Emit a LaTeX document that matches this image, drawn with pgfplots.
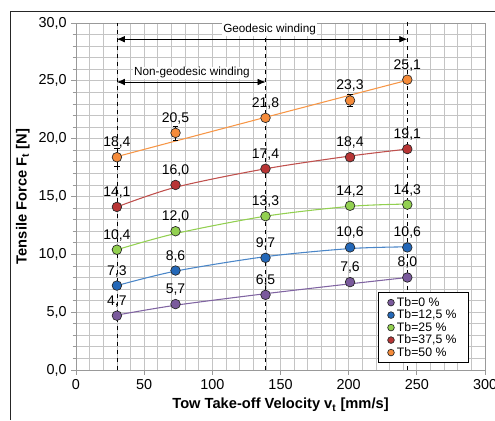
\documentclass[border=0pt]{standalone}
\usepackage{pgfplots}
\pgfplotsset{compat=1.18}
\usepackage{fontspec}
\setmainfont{Liberation Sans}
\usetikzlibrary{arrows.meta}
\definecolor{cpur}{HTML}{7A5A9C}
\definecolor{lpur}{HTML}{8064A2}
\definecolor{cblu}{HTML}{2468B8}
\definecolor{lblu}{HTML}{4A86C8}
\definecolor{cgre}{HTML}{92D050}
\definecolor{lgre}{HTML}{92D050}
\definecolor{cred}{HTML}{B83535}
\definecolor{lred}{HTML}{C0504D}
\definecolor{cora}{HTML}{F58B3A}
\definecolor{lora}{HTML}{F79646}
\definecolor{gridc}{HTML}{C4C4C4}

\pgfplotstableread{
x y e
30 4.7 0.1
73 5.7 0.1
139 6.5 0.1
201 7.6 0.1
243 8.0 0.35
}\tbzero
\pgfplotstableread{
x y e
30 7.3 0.1
73 8.6 0.1
139 9.7 0.1
201 10.6 0.1
243 10.6 0.1
}\tbone
\pgfplotstableread{
x y e
30 10.4 0.1
73 12.0 0.3
139 13.3 0.1
201 14.2 0.1
243 14.3 0.1
}\tbtwo
\pgfplotstableread{
x y e
30 14.1 0.1
73 16.0 0.1
139 17.4 0.1
201 18.4 0.1
243 19.1 0.1
}\tbthree
\pgfplotstableread{
x y e
30 18.4 0.8
73 20.5 0.6
139 21.8 0.1
201 23.3 0.5
243 25.1 0.1
}\tbfour

\pgfplotsset{
  datapt/.style={only marks, mark=*, mark size=3.6pt,
    mark options={fill=#1, draw=black!85, line width=0.5pt},
    error bars/.cd, y dir=both, y explicit,
    error bar style={black, line width=0.5pt},
    error mark options={rotate=90, mark size=2pt, black, line width=0.5pt},
    /pgfplots/.cd,
    point meta=y,
    nodes near coords={\pgfmathprintnumber[fixed,fixed zerofill,precision=1,use comma]{\pgfplotspointmeta}},
    every node near coord/.append style={font=\fontsize{10.5}{12}\selectfont, black, anchor=south, yshift=6.3pt, inner sep=0pt},
  },
  trend/.style={forget plot, no marks, smooth, line width=0.8pt, draw=#1},
}

\begin{document}
\begin{tikzpicture}
\begin{axis}[
  scale only axis, width=306.75pt, height=260.25pt,
  xmin=0, xmax=300, ymin=0, ymax=30,
  xtick={0,50,...,300}, minor x tick num=4,
  ytick={0,5,...,30}, minor y tick num=4,
  grid=both,
  major grid style={draw=gridc, line width=0.6pt},
  minor grid style={draw=gridc, line width=0.6pt},
  axis line style={draw=gray!80, line width=0.6pt},
  tick style={draw=gray!80, line width=0.6pt},
  minor x tick style={draw=none},
  tick align=outside, tick pos=left,
  major tick length=3.5pt, minor tick length=2.5pt,
  /pgf/number format/assume math mode=true,
  ticklabel style={font=\fontsize{10.8}{12}\selectfont},
  yticklabel style={/pgf/number format/.cd, fixed, fixed zerofill, precision=1, use comma},
  xlabel={\textbf{Tow Take-off Velocity v\textsubscript{t} [mm/s]}},
  ylabel={\textbf{Tensile Force F\textsubscript{t} [N]}},
  label style={font=\fontsize{11}{13}\selectfont},
  xlabel style={at={(rel axis cs:0.5,-0.101)}, anchor=center},
  ylabel style={at={(rel axis cs:-0.13,0.5)}, anchor=center, rotate=0},
  legend style={at={(rel axis cs:0.961,0.02)}, anchor=south east,
    draw=black, line width=0.6pt, fill=white, font=\fontsize{9.2}{10.5}\selectfont,
    inner xsep=7pt, inner ysep=1.5pt, row sep=-2.8pt, cells={anchor=west}},
  legend image post style={mark size=2.5pt},
  clip=false,
]
% dashed lines
\draw[black, dashed, line width=0.6pt] (axis cs:30,0) -- (axis cs:30,30);
\draw[black, dashed, line width=0.6pt] (axis cs:139,0) -- (axis cs:139,30);
\draw[black, dashed, line width=0.6pt] (axis cs:243,0) -- (axis cs:243,30.3);
% arrows
\draw[black, line width=0.6pt, {Latex[length=6pt,width=5pt]}-{Latex[length=6pt,width=5pt]}] (axis cs:30,28.6) -- (axis cs:243,28.6);
\draw[black, line width=0.6pt, {Latex[length=6pt,width=5pt]}-{Latex[length=6pt,width=5pt]}] (axis cs:30,24.9) -- (axis cs:139,24.9);
\node[fill=white, inner xsep=1pt, inner ysep=0.5pt, font=\fontsize{8.8}{10}\selectfont] at (axis cs:142,29.45) {Geodesic winding};
\node[fill=white, inner xsep=1pt, inner ysep=0.5pt, font=\fontsize{8.8}{10}\selectfont] at (axis cs:85,25.7) {Non-geodesic winding};
% trend lines
\addplot[trend=lpur] coordinates {(30,4.75)(73,5.6)(139,6.6)(201,7.45)(243,8.0)};
\addplot[trend=lblu] coordinates {(30,7.3)(73,8.55)(139,9.8)(201,10.5)(243,10.65)};
\addplot[trend=lgre] coordinates {(30,10.4)(73,11.8)(139,13.3)(201,14.15)(243,14.35)};
\addplot[trend=lred] coordinates {(30,14.1)(73,15.8)(139,17.4)(201,18.5)(243,19.1)};
\addplot[trend=lora] coordinates {(30,18.45)(139,21.85)(243,25.05)};
% data
\addplot[datapt=cpur] table[x=x,y=y,y error=e] {\tbzero};
\addlegendentry{Tb=0 \%}
\addplot[datapt=cblu] table[x=x,y=y,y error=e] {\tbone};
\addlegendentry{Tb=12,5 \%}
\addplot[datapt=cgre] table[x=x,y=y,y error=e] {\tbtwo};
\addlegendentry{Tb=25 \%}
\addplot[datapt=cred] table[x=x,y=y,y error=e] {\tbthree};
\addlegendentry{Tb=37,5 \%}
\addplot[datapt=cora] table[x=x,y=y,y error=e] {\tbfour};
\addlegendentry{Tb=50 \%}
% frame and page corners
\coordinate (pbl) at (rel axis cs:-0.1858,-0.1441);
\coordinate (ptr) at (rel axis cs:1.0244,1.0663);
\coordinate (ftl) at (rel axis cs:-0.1614,1.0346);
\coordinate (fbl) at (rel axis cs:-0.1614,-0.1441);
\coordinate (ftr) at (rel axis cs:1.0244,1.0346);
\end{axis}
\draw[black!85, line width=0.7pt] (fbl) -- (ftl) -- (ftr);
\pgfresetboundingbox
\useasboundingbox (pbl) rectangle (ptr);
\end{tikzpicture}
\end{document}
